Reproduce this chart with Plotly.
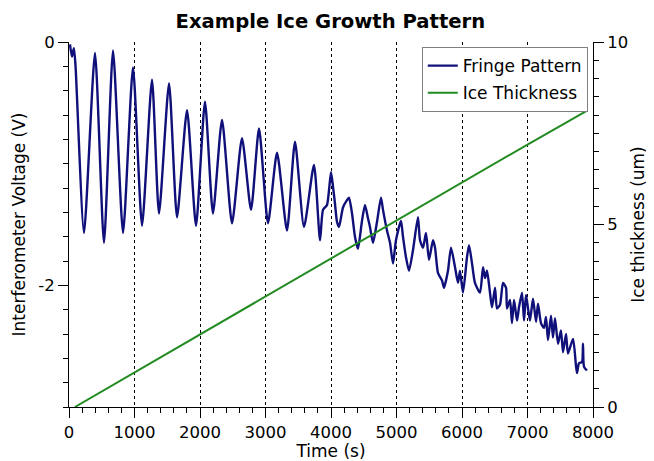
import plotly.graph_objects as go

# Fringe pattern (interferometer voltage, V)
fringe_time = [15, 45, 75, 100, 229, 397, 534, 672, 825, 977, 1115, 1267, 1374,
               1527, 1649, 1802, 1939, 2076, 2198, 2336, 2489, 2641, 2779, 2901,
               3038, 3176, 3328, 3450, 3588, 3740, 3832, 3878, 3939, 4000, 4031,
               4061, 4092, 4122, 4183, 4244, 4275, 4321, 4366, 4412, 4473, 4519,
               4565, 4595, 4641, 4702, 4763, 4794, 4855, 4901, 4947, 4992, 5069,
               5099, 5145, 5191, 5252, 5328, 5359, 5405, 5450, 5496, 5557, 5588,
               5634, 5695, 5725, 5786, 5832, 5893, 5939, 5969, 6015, 6076, 6107,
               6153, 6198, 6275, 6321, 6351, 6382, 6427, 6458, 6504, 6534, 6580,
               6626, 6672, 6687, 6733, 6763, 6794, 6840, 6870, 6916, 6947, 6977,
               7008, 7038, 7084, 7130, 7160, 7206, 7252, 7282, 7313, 7359, 7389,
               7420, 7466, 7511, 7542, 7588, 7618, 7695, 7740, 7756, 7786, 7832,
               7847, 7863, 7908]
fringe_volt = [-0.02, -0.12, -0.05, -0.2, -1.57, -0.09, -1.65, -0.07, -1.57, -0.21,
               -1.51, -0.31, -1.41, -0.34, -1.44, -0.56, -1.51, -0.49, -1.41, -0.64,
               -1.49, -0.79, -1.38, -0.71, -1.49, -0.91, -1.55, -0.82, -1.52, -1.01,
               -1.63, -1.38, -1.34, -1.07, -1.19, -1.33, -1.48, -1.52, -1.36, -1.30,
               -1.28, -1.41, -1.60, -1.70, -1.47, -1.34, -1.45, -1.52, -1.65, -1.48,
               -1.28, -1.38, -1.55, -1.65, -1.82, -1.63, -1.47, -1.60, -1.77, -1.88,
               -1.71, -1.44, -1.63, -1.69, -1.57, -1.79, -1.63, -1.69, -1.90, -1.96,
               -2.02, -1.88, -1.69, -1.85, -1.98, -1.88, -2.06, -1.77, -1.67, -1.82,
               -1.98, -2.06, -1.85, -1.94, -1.88, -2.06, -2.18, -2.02, -2.19, -2.16,
               -1.98, -2.02, -2.19, -2.12, -2.31, -2.12, -2.29, -2.18, -2.06, -2.29,
               -2.08, -2.19, -2.29, -2.11, -2.30, -2.15, -2.31, -2.35, -2.26, -2.45,
               -2.25, -2.43, -2.27, -2.48, -2.37, -2.55, -2.40, -2.56, -2.44, -2.66,
               -2.72, -2.64, -2.63, -2.48, -2.67, -2.70]

# Ice thickness (um)
ice_time = [90, 1000, 2000, 3000, 4000, 5000, 6000, 7000, 7890]
ice_thick = [0, 0.95, 1.99, 3.03, 4.07, 5.11, 6.15, 7.19, 8.1]

# Tick labels
volt_ticks = [-2, 0]
volt_labels = ["-2", "0"]
thick_ticks = [0, 5, 10]
thick_labels = ["0", "5", "10"]

font_family = "DejaVu Sans, Verdana, sans-serif"

fig = go.Figure()
fig.add_trace(go.Scatter(x=fringe_time, y=fringe_volt, mode="lines",
                         name="Fringe Pattern", legendgroup="a",
                         line=dict(color="#10107a", width=2.4, shape="spline", smoothing=0.6)))
fig.add_trace(go.Scatter(x=ice_time, y=ice_thick, mode="lines",
                         name="Ice Thickness", yaxis="y2", legendgroup="b",
                         line=dict(color="#228b22", width=2)))

axis_common = dict(showline=True, linecolor="black", linewidth=1,
                   ticks="outside", ticklen=10, tickcolor="black",
                   tickfont=dict(size=16.5, color="black"),
                   zeroline=False, automargin=False)

# the page body adds an 8px offset; the figure is sized to fit the window
fig.update_layout(
    width=646, height=453,
    margin=dict(l=61, r=61, t=34, b=54),
    paper_bgcolor="white", plot_bgcolor="white",
    font=dict(family=font_family, size=17, color="black"),
    title=dict(text="<b>Example Ice Growth Pattern</b>", x=0.499, xanchor="center",
               y=0.971, yanchor="middle", font=dict(size=19.6, color="black")),
    xaxis=dict(range=[0, 8000], dtick=1000, tick0=0,
               showgrid=True, gridcolor="black", griddash="dot", gridwidth=1,
               minor=dict(dtick=200, ticklen=5, ticks="outside", tickcolor="black", showgrid=False),
               title=dict(text="Time (s)", standoff=4, font=dict(size=17)),
               **axis_common),
    yaxis=dict(range=[-3, 0], tickmode="array", tickvals=volt_ticks, ticktext=volt_labels,
               showgrid=False,
               minor=dict(tickmode="linear", tick0=0, dtick=0.2, ticklen=5, ticks="outside",
                          tickcolor="black", showgrid=False),
               title=dict(text="Interferometer Voltage (V)", standoff=8, font=dict(size=17)),
               **axis_common),
    yaxis2=dict(range=[0, 10], tickmode="array", tickvals=thick_ticks, ticktext=thick_labels,
                overlaying="y", side="right", showgrid=False,
                minor=dict(tickmode="linear", tick0=0, dtick=0.5, ticklen=5, ticks="outside",
                           tickcolor="black", showgrid=False),
                title=dict(text="Ice thickness (um)", standoff=4, font=dict(size=17)),
                **axis_common),
    legend=dict(x=0.99, xanchor="right", y=0.986, yanchor="top",
                bgcolor="white", bordercolor="#808080", borderwidth=1,
                font=dict(size=17), tracegroupgap=2, itemwidth=30),
    showlegend=True,
)

fig.write_html("out.html")
